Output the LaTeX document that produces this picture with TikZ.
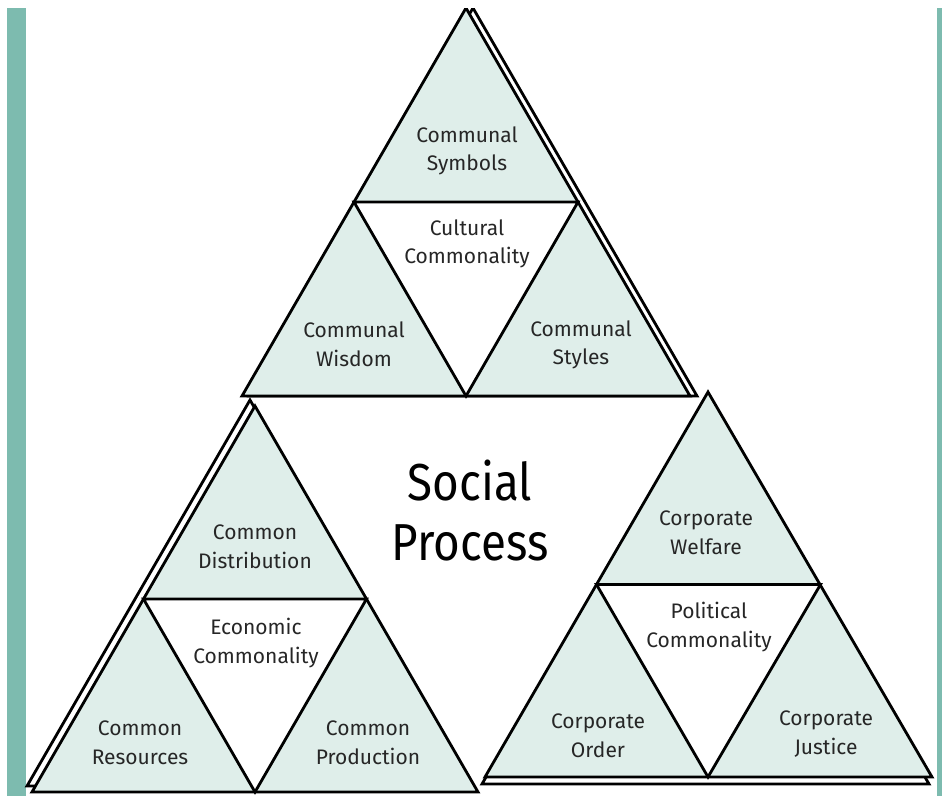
\documentclass[tikz,border=0pt]{standalone}
\usepackage{fontspec}
\setmainfont{Fira Sans}
\newfontfamily\bigfont[FakeStretch=0.88]{Fira Sans}
\definecolor{tealbar}{HTML}{7DBBAF}
\definecolor{pale}{HTML}{DFEEEA}

\begin{document}
\begin{tikzpicture}[
                x=1pt, y=-1pt,
                piece/.style={draw, line width=2.8pt, fill=pale},
                hole/.style={draw, line width=2.8pt, fill=white},
                shade/.style={draw, line width=2.8pt, fill=white},
                every node/.style={
                  align=center,
                  text=black!85,
                  font=\fontsize{21}{28.5}\selectfont,
                },
              ]
              \useasboundingbox (0,0) rectangle (942,796) ;
              \clip (0,8) rectangle (942,796) ;
              \fill[tealbar] (7,8) rectangle (26,796) ;
              \fill[tealbar] (937,8) rectangle (942,796) ;
              % cultural
              \coordinate (ca) at (466,8) ;
              \coordinate (cl) at (242,396) ;
              \coordinate (cr) at (690,396) ;
              \coordinate (cml) at (354,202) ;
              \coordinate (cmr) at (578,202) ;
              \coordinate (cmb) at (466,396) ;
              \draw[shade] ([shift={(7,0)}]ca)--([shift={(7,0)}]cr)--([shift={(7,0)}]cl)--cycle ;
              \draw[piece] (ca)--(cr)--(cl)--cycle ;
              \draw[hole] (cml)--(cmr)--(cmb)--cycle ;
              % economic
              \coordinate (ea) at (255,406) ;
              \coordinate (el) at (32,792) ;
              \coordinate (er) at (478,792) ;
              \coordinate (eml) at (143.5,599) ;
              \coordinate (emr) at (366.5,599) ;
              \coordinate (emb) at (255,792) ;
              \draw[shade] ([shift={(-5,-6)}]ea)--([shift={(-5,-6)}]er)--([shift={(-5,-6)}]el)--cycle ;
              \draw[piece] (ea)--(er)--(el)--cycle ;
              \draw[hole] (eml)--(emr)--(emb)--cycle ;
              % political
              \coordinate (pa) at (708,392) ;
              \coordinate (pl) at (485,777) ;
              \coordinate (pr) at (932,777) ;
              \coordinate (pml) at (596.5,584.5) ;
              \coordinate (pmr) at (820.5,584.5) ;
              \coordinate (pmb) at (708,777) ;
              \draw[shade] ([shift={(-3,7)}]pa)--([shift={(-3,7)}]pr)--([shift={(-3,7)}]pl)--cycle ;
              \draw[piece] (pa)--(pr)--(pl)--cycle ;
              \draw[hole] (pml)--(pmr)--(pmb)--cycle ;
              % labels
              \node[font=\bigfont\fontsize{52}{60}\selectfont, text=black] at (470,511) (social) {Social\\Process} ;
              \node at (467,151) (symbols) {Communal\\Symbols} ;
              \node at (467,244) (cultural) {Cultural\\Commonality} ;
              \node at (354,344) (wisdom) {Communal\\Wisdom} ;
              \node at (581,345) (styles) {Communal\\Styles} ;
              \node at (255,547) (distribution) {Common\\Distribution} ;
              \node at (256,643) (economic) {Economic\\Commonality} ;
              \node at (140,743) (resources) {Common\\Resources} ;
              \node at (368,743) (production) {Common\\Production} ;
              \node at (706,533) (welfare) {Corporate\\Welfare} ;
              \node at (709,627) (political) {Political\\Commonality} ;
              \node at (598,736) (order) {Corporate\\Order} ;
              \node at (826,734) (justice) {Corporate\\Justice} ;
              \end{tikzpicture}
\end{document}
